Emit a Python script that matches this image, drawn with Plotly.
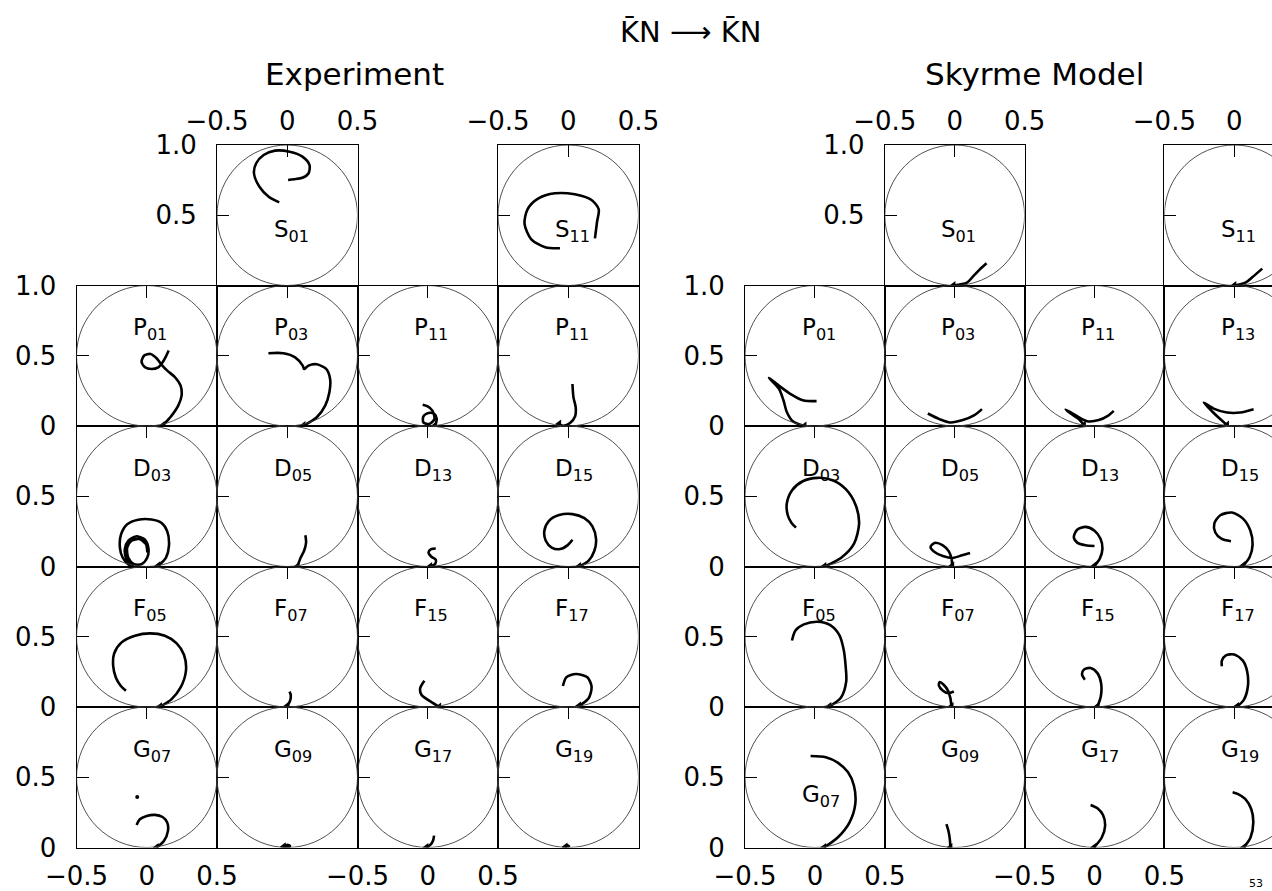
import plotly.graph_objects as go

# ---------------------------------------------------------------- data ----
ROWS = ["S", "P", "D", "F", "G"]
EXP_LABELS = {
    "S": [None, "S<sub>01</sub>", None, "S<sub>11</sub>"],
    "P": ["P<sub>01</sub>", "P<sub>03</sub>", "P<sub>11</sub>", "P<sub>11</sub>"],
    "D": ["D<sub>03</sub>", "D<sub>05</sub>", "D<sub>13</sub>", "D<sub>15</sub>"],
    "F": ["F<sub>05</sub>", "F<sub>07</sub>", "F<sub>15</sub>", "F<sub>17</sub>"],
    "G": ["G<sub>07</sub>", "G<sub>09</sub>", "G<sub>17</sub>", "G<sub>19</sub>"],
}
SKY_LABELS = {
    "S": [None, "S<sub>01</sub>", None, "S<sub>11</sub>"],
    "P": ["P<sub>01</sub>", "P<sub>03</sub>", "P<sub>11</sub>", "P<sub>13</sub>"],
    "D": ["D<sub>03</sub>", "D<sub>05</sub>", "D<sub>13</sub>", "D<sub>15</sub>"],
    "F": ["F<sub>05</sub>", "F<sub>07</sub>", "F<sub>15</sub>", "F<sub>17</sub>"],
    "G": ["G<sub>07</sub>", "G<sub>09</sub>", "G<sub>17</sub>", "G<sub>19</sub>"],
}
X_TICKS = [-0.5, 0, 0.5]
X_TICK_TEXT = ["\u22120.5", "0", "0.5"]

# Experiment (Re T, Im T) trajectories
EXP_S01_X = [-0.057, -0.132, -0.198, -0.237, -0.221, -0.168, -0.087, 0.017, 0.108, 0.158, 0.152, 0.108, 0.048, 0.006]
EXP_S01_Y = [0.592, 0.632, 0.703, 0.799, 0.870, 0.929, 0.960, 0.952, 0.917, 0.858, 0.799, 0.767, 0.756, 0.751]
EXP_S11_X = [-0.059, -0.164, -0.263, -0.311, -0.290, -0.215, -0.095, 0.046, 0.166, 0.217, 0.205, 0.190]
EXP_S11_Y = [0.265, 0.272, 0.329, 0.438, 0.542, 0.618, 0.656, 0.649, 0.609, 0.542, 0.454, 0.336]
EXP_P01_X = [0.113, 0.177, 0.224, 0.248, 0.241, 0.201, 0.146, 0.106, 0.070, 0.027, -0.018, -0.037, -0.013, 0.034, 0.082, 0.113, 0.137, 0.156]
EXP_P01_Y = [0.002, 0.074, 0.145, 0.216, 0.287, 0.347, 0.394, 0.435, 0.482, 0.513, 0.501, 0.458, 0.418, 0.406, 0.418, 0.454, 0.496, 0.537]
EXP_P03_X = [0.115, 0.210, 0.270, 0.300, 0.305, 0.277, 0.210, 0.151, 0.120, 0.110, 0.056, -0.027, -0.134]
EXP_P03_Y = [0.002, 0.062, 0.145, 0.240, 0.335, 0.406, 0.439, 0.430, 0.406, 0.430, 0.489, 0.518, 0.518]
EXP_P11_X = [0.052, 0.064, 0.048, 0.005, -0.031, -0.031, 0.010, 0.048, 0.033, 0.000, -0.036]
EXP_P11_Y = [0.002, 0.050, 0.086, 0.093, 0.069, 0.026, 0.014, 0.050, 0.109, 0.140, 0.152]
EXP_P11B_X = [-0.065, -0.034, 0.013, 0.049, 0.053, 0.037, 0.030]
EXP_P11B_Y = [0.014, 0.002, 0.021, 0.069, 0.133, 0.204, 0.299]
EXP_D03_X = [0.082, 0.137, 0.158, 0.146, 0.106, 0.034, -0.061, -0.139, -0.184, -0.191, -0.172, -0.125, -0.096,
             -0.144, -0.156, -0.132, -0.077, -0.018, 0.011, 0.004, -0.037, -0.091, -0.132, -0.139, -0.108, -0.053, -0.006, 0.004]
EXP_D03_Y = [0.005, 0.064, 0.147, 0.250, 0.310, 0.335, 0.333, 0.300, 0.225, 0.135, 0.064, 0.010, 0.000,
             0.052, 0.124, 0.183, 0.214, 0.195, 0.135, 0.064, 0.017, 0.017, 0.064, 0.135, 0.183, 0.195, 0.159, 0.100]
EXP_D05_X = [0.072, 0.096, 0.120, 0.134, 0.129]
EXP_D05_Y = [0.000, 0.064, 0.112, 0.171, 0.223]
EXP_D13_X = [0.017, 0.052, 0.057, 0.024, 0.005, 0.024, 0.057]
EXP_D13_Y = [0.000, 0.017, 0.048, 0.071, 0.100, 0.124, 0.128]
EXP_D15_X = [0.077, 0.144, 0.186, 0.198, 0.172, 0.115, 0.030, -0.065, -0.137, -0.170, -0.160, -0.118, -0.058, -0.004, 0.030]
EXP_D15_Y = [0.000, 0.040, 0.112, 0.195, 0.285, 0.344, 0.373, 0.366, 0.325, 0.254, 0.183, 0.135, 0.124, 0.152, 0.190]
EXP_F05_X = [0.094, 0.177, 0.241, 0.279, 0.265, 0.213, 0.129, 0.023, -0.084, -0.179, -0.232, -0.239, -0.220, -0.186, -0.148]
EXP_F05_Y = [0.001, 0.056, 0.139, 0.258, 0.372, 0.453, 0.507, 0.524, 0.507, 0.460, 0.381, 0.293, 0.210, 0.151, 0.115]
EXP_F07_X = [0.001, 0.020, 0.025, 0.016]
EXP_F07_Y = [0.008, 0.044, 0.087, 0.110]
EXP_F15_X = [0.081, 0.022, -0.044, -0.054, -0.024]
EXP_F15_Y = [0.000, 0.038, 0.085, 0.133, 0.187]
EXP_F17_X = [0.076, 0.145, 0.166, 0.136, 0.055, -0.014, -0.038]
EXP_F17_Y = [0.007, 0.062, 0.145, 0.211, 0.235, 0.211, 0.149]
EXP_G07_X = [0.070, 0.122, 0.151, 0.146, 0.113, 0.058, -0.001, -0.049, -0.072]
EXP_G07_Y = [0.000, 0.046, 0.118, 0.177, 0.217, 0.232, 0.224, 0.201, 0.160]
EXP_G07_DOT_X = [-0.068]
EXP_G07_DOT_Y = [0.360]
EXP_G09_X = [-0.025, 0.000, 0.020, 0.005, -0.010]
EXP_G09_Y = [0.005, 0.020, 0.010, 0.000, 0.012]
EXP_G17_X = [-0.010, 0.020, 0.038, 0.045]
EXP_G17_Y = [0.000, 0.020, 0.050, 0.085]
EXP_G19_X = [-0.020, -0.005, 0.010]
EXP_G19_Y = [0.003, 0.015, 0.004]

# Skyrme model trajectories
SKY_S01_X = [-0.009, 0.088, 0.130, 0.180, 0.228]
SKY_S01_Y = [0.000, 0.020, 0.063, 0.115, 0.158]
SKY_S11_X = [0.000, 0.080, 0.130, 0.200]
SKY_S11_Y = [0.000, 0.020, 0.060, 0.120]
SKY_P01_X = [-0.075, -0.158, -0.201, -0.225, -0.258, -0.329, -0.253, -0.170, -0.087, 0.012]
SKY_P01_Y = [0.000, 0.034, 0.100, 0.183, 0.267, 0.343, 0.284, 0.225, 0.184, 0.177]
SKY_P03_X = [-0.192, -0.109, -0.033, 0.058, 0.141, 0.195]
SKY_P03_Y = [0.089, 0.049, 0.025, 0.042, 0.077, 0.120]
SKY_P11_X = [-0.076, -0.112, -0.171, -0.207, -0.136, -0.052, 0.031, 0.095, 0.138]
SKY_P11_Y = [0.006, 0.049, 0.089, 0.118, 0.077, 0.034, 0.042, 0.072, 0.108]
SKY_P13_X = [-0.052, -0.105, -0.160, -0.219, -0.148, -0.052, 0.043, 0.138]
SKY_P13_Y = [0.006, 0.053, 0.105, 0.167, 0.124, 0.096, 0.096, 0.120]
SKY_D03_X = [0.067, 0.186, 0.280, 0.316, 0.292, 0.221, 0.126, 0.020, -0.087, -0.163, -0.201, -0.194, -0.168, -0.135]
SKY_D03_Y = [0.000, 0.061, 0.163, 0.305, 0.436, 0.550, 0.614, 0.631, 0.607, 0.543, 0.448, 0.365, 0.312, 0.277]
SKY_D05_X = [-0.018, -0.023, -0.042, -0.085, -0.144, -0.173, -0.144, -0.085, -0.014, 0.053, 0.110]
SKY_D05_Y = [0.004, 0.056, 0.108, 0.151, 0.168, 0.139, 0.103, 0.075, 0.061, 0.080, 0.096]
SKY_D13_X = [0.000, 0.038, 0.057, 0.043, 0.000, -0.064, -0.124, -0.148, -0.124, -0.064, 0.000]
SKY_D13_Y = [0.004, 0.056, 0.127, 0.198, 0.255, 0.282, 0.262, 0.210, 0.170, 0.151, 0.146]
SKY_D15_X = [0.062, 0.110, 0.131, 0.114, 0.062, -0.017, -0.100, -0.143, -0.136, -0.093, -0.024]
SKY_D15_Y = [0.004, 0.068, 0.156, 0.258, 0.341, 0.384, 0.365, 0.306, 0.242, 0.199, 0.180]
SKY_F05_X = [0.103, 0.187, 0.224, 0.219, 0.206, 0.175, 0.110, 0.018, -0.079, -0.139, -0.164]
SKY_F05_Y = [0.003, 0.067, 0.182, 0.301, 0.408, 0.512, 0.583, 0.607, 0.588, 0.545, 0.473]
SKY_F07_X = [-0.023, -0.031, -0.047, -0.079, -0.108, -0.113, -0.084, -0.047, -0.006]
SKY_F07_Y = [0.003, 0.063, 0.115, 0.158, 0.177, 0.153, 0.115, 0.098, 0.110]
SKY_F15_X = [0.021, 0.045, 0.047, 0.021, -0.028, -0.076, -0.089, -0.069]
SKY_F15_Y = [0.003, 0.074, 0.170, 0.241, 0.278, 0.266, 0.230, 0.194]
SKY_F17_X = [0.019, 0.068, 0.097, 0.092, 0.061, 0.000, -0.060, -0.089, -0.089]
SKY_F17_Y = [0.003, 0.051, 0.146, 0.253, 0.330, 0.373, 0.368, 0.330, 0.290]
SKY_G07_X = [0.066, 0.163, 0.248, 0.289, 0.279, 0.236, 0.163, 0.078, -0.031]
SKY_G07_Y = [0.000, 0.071, 0.179, 0.310, 0.441, 0.537, 0.604, 0.642, 0.651]
SKY_G09_X = [-0.031, -0.035, -0.045, -0.059]
SKY_G09_Y = [0.000, 0.059, 0.119, 0.167]
SKY_G17_X = [-0.004, 0.052, 0.076, 0.061, 0.021, -0.028]
SKY_G17_Y = [0.000, 0.071, 0.155, 0.231, 0.279, 0.303]
SKY_G19_X = [0.068, 0.116, 0.136, 0.121, 0.078, 0.024, -0.012]
SKY_G19_Y = [0.000, 0.071, 0.179, 0.274, 0.346, 0.382, 0.394]

CURVES = {
    ("exp", "S", 1): [(EXP_S01_X, EXP_S01_Y)],
    ("exp", "S", 3): [(EXP_S11_X, EXP_S11_Y)],
    ("exp", "P", 0): [(EXP_P01_X, EXP_P01_Y)],
    ("exp", "P", 1): [(EXP_P03_X, EXP_P03_Y)],
    ("exp", "P", 2): [(EXP_P11_X, EXP_P11_Y)],
    ("exp", "P", 3): [(EXP_P11B_X, EXP_P11B_Y)],
    ("exp", "D", 0): [(EXP_D03_X, EXP_D03_Y)],
    ("exp", "D", 1): [(EXP_D05_X, EXP_D05_Y)],
    ("exp", "D", 2): [(EXP_D13_X, EXP_D13_Y)],
    ("exp", "D", 3): [(EXP_D15_X, EXP_D15_Y)],
    ("exp", "F", 0): [(EXP_F05_X, EXP_F05_Y)],
    ("exp", "F", 1): [(EXP_F07_X, EXP_F07_Y)],
    ("exp", "F", 2): [(EXP_F15_X, EXP_F15_Y)],
    ("exp", "F", 3): [(EXP_F17_X, EXP_F17_Y)],
    ("exp", "G", 0): [(EXP_G07_X, EXP_G07_Y)],
    ("exp", "G", 1): [(EXP_G09_X, EXP_G09_Y)],
    ("exp", "G", 2): [(EXP_G17_X, EXP_G17_Y)],
    ("exp", "G", 3): [(EXP_G19_X, EXP_G19_Y)],
    ("sky", "S", 1): [(SKY_S01_X, SKY_S01_Y)],
    ("sky", "S", 3): [(SKY_S11_X, SKY_S11_Y)],
    ("sky", "P", 0): [(SKY_P01_X, SKY_P01_Y)],
    ("sky", "P", 1): [(SKY_P03_X, SKY_P03_Y)],
    ("sky", "P", 2): [(SKY_P11_X, SKY_P11_Y)],
    ("sky", "P", 3): [(SKY_P13_X, SKY_P13_Y)],
    ("sky", "D", 0): [(SKY_D03_X, SKY_D03_Y)],
    ("sky", "D", 1): [(SKY_D05_X, SKY_D05_Y)],
    ("sky", "D", 2): [(SKY_D13_X, SKY_D13_Y)],
    ("sky", "D", 3): [(SKY_D15_X, SKY_D15_Y)],
    ("sky", "F", 0): [(SKY_F05_X, SKY_F05_Y)],
    ("sky", "F", 1): [(SKY_F07_X, SKY_F07_Y)],
    ("sky", "F", 2): [(SKY_F15_X, SKY_F15_Y)],
    ("sky", "F", 3): [(SKY_F17_X, SKY_F17_Y)],
    ("sky", "G", 0): [(SKY_G07_X, SKY_G07_Y)],
    ("sky", "G", 1): [(SKY_G09_X, SKY_G09_Y)],
    ("sky", "G", 2): [(SKY_G17_X, SKY_G17_Y)],
    ("sky", "G", 3): [(SKY_G19_X, SKY_G19_Y)],
}
DOTS = {("exp", "G", 0): (EXP_G07_DOT_X, EXP_G07_DOT_Y)}

# -------------------------------------------------------------- layout ----
FIG_W, FIG_H = 1272, 891
FONT = "DejaVu Sans"
COL_LEFT = {"exp": [76.5, 217.0, 357.5, 498.0], "sky": [745.0, 884.8, 1024.6, 1164.4]}
CELL_W = {"exp": 140.5, "sky": 139.8}
ROW_TOP = {"S": 145.0, "P": 285.5, "D": 426.0, "F": 566.5, "G": 707.0}
CELL_H = 140.5
TICK_FONT = dict(family=FONT, size=26, color="black")
LINE_W = 1.1

fig = go.Figure()
layout_axes = {}
annotations = []
shapes = []
k = 0
overlay_jobs = []
for panel, labels in (("exp", EXP_LABELS), ("sky", SKY_LABELS)):
    for row in ROWS:
        for c in range(4):
            if row == "S" and c not in (1, 3):
                continue
            k += 1
            xa, ya = f"x{k}", f"y{k}"
            cw = CELL_W[panel]
            left = COL_LEFT[panel][c]
            right = min(left + cw, FIG_W)
            clipped = right < left + cw - 0.5
            xr = [-0.5, -0.5 + (right - left) / cw]
            top = ROW_TOP[row]
            xdom = [left / FIG_W, right / FIG_W]
            ydom = [1 - (top + CELL_H) / FIG_H, 1 - top / FIG_H]
            is_s = row == "S"
            xax = dict(
                domain=xdom, range=xr, anchor=ya, side="top",
                showline=True, mirror=True, linecolor="black", linewidth=LINE_W,
                ticks="inside", ticklen=12, tickwidth=1.3, tickcolor="black",
                showticklabels=is_s, tickfont=TICK_FONT, ticklabelstandoff=4,
                showgrid=False, zeroline=False, fixedrange=True, automargin=False,
            )
            if is_s:
                xax.update(tickvals=X_TICKS, ticktext=X_TICK_TEXT)
            else:
                xax.update(tickvals=[0])
            layout_axes[f"xaxis{k}"] = xax
            yax = dict(
                domain=ydom, range=[0, 1], anchor=xa, side="left",
                showline=True, mirror=not clipped, linecolor="black", linewidth=LINE_W,
                ticks="inside", ticklen=12, tickwidth=1.3, tickcolor="black",
                tickfont=TICK_FONT, ticklabelstandoff=14,
                showgrid=False, zeroline=False, fixedrange=True, automargin=False,
            )
            if c == 0 or (is_s and c == 1):
                if row == "P":
                    yax.update(tickvals=[0, 0.5, 1.0], ticktext=["0", "0.5", "1.0"])
                elif is_s:
                    yax.update(tickvals=[0.5, 1.0], ticktext=["0.5", "1.0"])
                else:
                    yax.update(tickvals=[0, 0.5], ticktext=["0", "0.5"])
                yax["showticklabels"] = True
            else:
                yax.update(tickvals=[0.5], showticklabels=False)
            layout_axes[f"yaxis{k}"] = yax
            # unitarity circle
            shapes.append(dict(type="circle", xref=xa, yref=ya, x0=-0.5, x1=0.5, y0=0, y1=1,
                               line=dict(color="#3c3c3c", width=0.9)))
            for cx, cy in CURVES.get((panel, row, c), []):
                fig.add_trace(go.Scatter(x=cx, y=cy, xaxis=xa, yaxis=ya, mode="lines",
                                         line=dict(color="black", width=2.6, shape="spline", smoothing=0.8),
                                         showlegend=False, hoverinfo="skip"))
                if cy[0] < 0.02:
                    # arrowhead on the circle where the trajectory starts
                    fig.add_trace(go.Scatter(x=[cx[0]], y=[cy[0]], xaxis=xa, yaxis=ya, mode="markers",
                                             marker=dict(symbol="triangle-left", size=8, color="black"),
                                             showlegend=False, hoverinfo="skip"))
            if (panel, row, c) in DOTS:
                dx, dy = DOTS[(panel, row, c)]
                fig.add_trace(go.Scatter(x=dx, y=dy, xaxis=xa, yaxis=ya, mode="markers",
                                         marker=dict(color="black", size=4),
                                         showlegend=False, hoverinfo="skip"))
            lab = labels[row][c]
            if lab:
                lx, lyy = -0.11, 0.69
                if is_s:
                    lyy = 0.39
                if panel == "sky" and row == "G" and c == 0:
                    lyy = 0.37
                annotations.append(dict(text=lab, xref=xa, yref=ya, x=lx, y=lyy,
                                        xanchor="left", yanchor="middle", showarrow=False,
                                        font=dict(family=FONT, size=23, color="black")))
            if row == "G" and c in (0, 2):
                overlay_jobs.append((xa, ya, xdom, xr))

n = k
for xa, ya, xdom, xr in overlay_jobs:
    n += 1
    layout_axes[f"xaxis{n}"] = dict(
        domain=xdom, range=xr, anchor=ya, overlaying=xa, side="bottom",
        showline=False, ticks="", tickvals=X_TICKS, ticktext=X_TICK_TEXT,
        tickfont=TICK_FONT, ticklabelstandoff=10,
        showgrid=False, zeroline=False, fixedrange=True, automargin=False,
    )
    # empty trace so that the label axis is drawn
    fig.add_trace(go.Scatter(x=[None], y=[None], xaxis=f"x{n}", yaxis=ya, mode="lines",
                             showlegend=False, hoverinfo="skip"))

TITLE_FONT = dict(family=FONT, size=31, color="black")
annotations += [
    dict(text="K\u0304N \u27f6 K\u0304N", xref="paper", yref="paper", x=690 / FIG_W, y=1 - 32 / FIG_H,
         xanchor="center", yanchor="middle", showarrow=False,
         font=dict(family=FONT, size=29, color="black")),
    dict(text="Experiment", xref="paper", yref="paper", x=354 / FIG_W, y=1 - 74 / FIG_H,
         xanchor="center", yanchor="middle", showarrow=False, font=TITLE_FONT),
    dict(text="Skyrme Model", xref="paper", yref="paper", x=1034 / FIG_W, y=1 - 74 / FIG_H,
         xanchor="center", yanchor="middle", showarrow=False, font=TITLE_FONT),
    dict(text="53", xref="paper", yref="paper", x=1256 / FIG_W, y=1 - 883 / FIG_H,
         xanchor="center", yanchor="middle", showarrow=False,
         font=dict(family=FONT, size=11, color="black")),
]

fig.update_layout(
    width=FIG_W, height=FIG_H, margin=dict(l=0, r=0, t=0, b=0, autoexpand=False),
    paper_bgcolor="white", plot_bgcolor="white", showlegend=False,
    annotations=annotations, shapes=shapes, **layout_axes,
)
fig.write_html("out.html", post_script="document.body.style.margin='0';",
               config={"displayModeBar": False})
